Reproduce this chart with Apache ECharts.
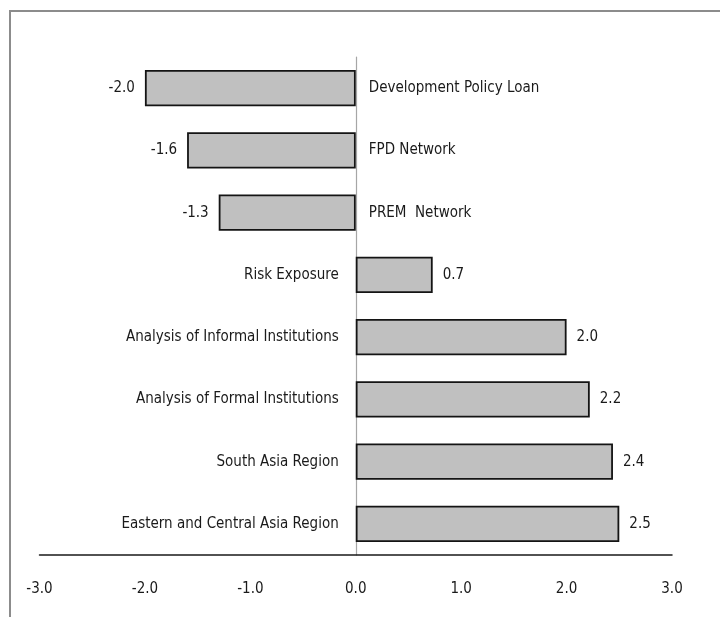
<!DOCTYPE html>
<html>
<head>
<meta charset="utf-8">
<style>
  html, body { margin: 0; padding: 0; background: #ffffff; }
  #chart { width: 720px; height: 617px; }
</style>
<script src="https://cdn.jsdelivr.net/npm/echarts@6/dist/echarts.min.js"></script>
</head>
<body>
<div id="chart"></div>
<script>
// Categories, top to bottom
const categories = [
  'Development Policy Loan',
  'FPD Network',
  'PREM  Network',
  'Risk Exposure',
  'Analysis of Informal Institutions',
  'Analysis of Formal Institutions',
  'South Asia Region',
  'Eastern and Central Asia Region'
];
// Effect size per category
const values = [-2.0, -1.6, -1.3, 0.73, 2.0, 2.22, 2.44, 2.5];
// Value axis range and step
const axisMin = -3;
const axisMax = 3;
const axisStep = 1;

const FONT = '"Liberation Sans Narrow", "DejaVu Sans Condensed", "Liberation Sans", sans-serif';
const TEXT = '#1a1a1a';

const chart = echarts.init(document.getElementById('chart'), null, { renderer: 'canvas' });

const barData = values.map(v => ({
  value: v,
  label: { position: v < 0 ? 'left' : 'right' }
}));

// Category names sit beside the zero line, on the side opposite the bar
const nameData = categories.map((c, i) => ({
  value: [0, c],
  label: values[i] < 0
    ? { position: 'right', distance: 13 }
    : { position: 'left', distance: 17 }
}));

chart.setOption({
  backgroundColor: '#ffffff',
  animation: false,
  graphic: [{
    type: 'rect',
    shape: { x: 10, y: 11, width: 800, height: 700 },
    style: { fill: 'none', stroke: '#8c8c8c', lineWidth: 2 },
    silent: true,
    z: 100
  }],
  grid: { left: 39.5, right: 48, top: 57, bottom: 62, containLabel: false },
  xAxis: {
    type: 'value',
    min: axisMin,
    max: axisMax,
    interval: axisStep,
    axisLine: { show: true, onZero: false, lineStyle: { color: '#1a1a1a', width: 1.5 } },
    axisTick: { show: false },
    splitLine: { show: false },
    axisLabel: {
      margin: 27,
      fontFamily: FONT,
      fontSize: 15,
      color: TEXT,
      formatter: v => v.toFixed(1)
    }
  },
  yAxis: {
    type: 'category',
    data: categories,
    inverse: true,
    axisLine: { show: true, onZero: true, lineStyle: { color: '#a6a6a6', width: 1.2 } },
    axisTick: { show: false },
    axisLabel: { show: false },
    splitLine: { show: false }
  },
  series: [
    {
      type: 'bar',
      data: barData,
      barWidth: '58%',
      itemStyle: { color: '#c0c0c0', borderColor: '#141414', borderWidth: 1.8 },
      label: {
        show: true,
        distance: 10,
        fontFamily: FONT,
        fontSize: 15,
        color: TEXT,
        formatter: p => p.value.toFixed(1)
      },
      z: 2
    },
    {
      type: 'scatter',
      data: nameData,
      symbolSize: 0,
      silent: true,
      itemStyle: { opacity: 1 },
      label: {
        show: true,
        fontFamily: FONT,
        fontSize: 15,
        color: TEXT,
        formatter: p => p.value[1]
      },
      z: 3
    }
  ]
});
</script>
</body>
</html>
